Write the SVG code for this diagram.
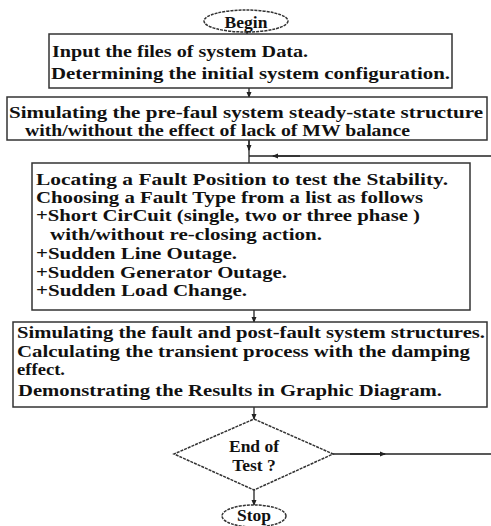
<svg xmlns="http://www.w3.org/2000/svg" width="491" height="526" viewBox="0 0 491 526">
<defs>
<marker id="ah" markerWidth="6" markerHeight="6" refX="5" refY="3" orient="auto" markerUnits="userSpaceOnUse">
<path d="M0,0.5 L6,3 L0,5.5 Z" fill="#222"/>
</marker>
<style>
.box{fill:#fff;stroke:#333;stroke-width:1.5}
.term{fill:#fff;stroke:#333;stroke-width:1.5;stroke-dasharray:3 1}
.t{font-family:"Liberation Serif","Times New Roman",serif;font-weight:bold;font-size:17.5px;fill:#111}
.c{text-anchor:middle}
.ln{stroke:#222;stroke-width:1.3;fill:none}
</style>
</defs>
<rect width="491" height="526" fill="#fff"/>
<g id="connectors">
<line class="ln" x1="247" y1="32" x2="247" y2="34" marker-end="url(#ah)"/>
<line class="ln" x1="249" y1="88" x2="249" y2="97" marker-end="url(#ah)"/>
<line class="ln" x1="249" y1="140" x2="249" y2="163"/>
<line class="ln" x1="249" y1="140" x2="249" y2="150" marker-end="url(#ah)"/>
<line class="ln" x1="491" y1="156" x2="249" y2="156"/>
<line class="ln" x1="300" y1="156" x2="273" y2="156" marker-end="url(#ah)"/>
<line class="ln" x1="254" y1="310" x2="254" y2="322" marker-end="url(#ah)"/>
<line class="ln" x1="254" y1="407" x2="254" y2="419" marker-end="url(#ah)"/>
<line class="ln" x1="254" y1="490" x2="254" y2="505" marker-end="url(#ah)"/>
<line class="ln" x1="333" y1="454" x2="491" y2="454"/>
<line class="ln" x1="350" y1="454" x2="385" y2="454" marker-end="url(#ah)"/>
</g>
<g id="begin">
<ellipse class="term" cx="246" cy="21" rx="42" ry="11"/>
<text class="t c" x="246" y="28">Begin</text>
</g>
<g id="input">
<rect class="box" x="49" y="34" width="403" height="54"/>
<text class="t" x="52" y="57" textLength="256" lengthAdjust="spacingAndGlyphs">Input the files of system Data.</text>
<text class="t" x="51" y="79" textLength="399" lengthAdjust="spacingAndGlyphs">Determining the initial system configuration.</text>
</g>
<g id="prefault">
<rect class="box" x="7" y="97" width="480" height="43"/>
<text class="t" x="9" y="118" textLength="474" lengthAdjust="spacingAndGlyphs">Simulating the pre-faul system steady-state structure</text>
<text class="t" x="25" y="136" textLength="385" lengthAdjust="spacingAndGlyphs">with/without the effect  of lack of MW balance</text>
</g>
<g id="fault">
<rect class="box" x="32" y="163" width="438" height="147"/>
<text class="t" x="36" y="185" textLength="412" lengthAdjust="spacingAndGlyphs">Locating a Fault Position to test  the Stability.</text>
<text class="t" x="36" y="203" textLength="387" lengthAdjust="spacingAndGlyphs">Choosing a Fault Type from a list as follows</text>
<text class="t" x="36" y="221" textLength="384" lengthAdjust="spacingAndGlyphs">+Short CirCuit (single, two or three phase )</text>
<text class="t" x="50" y="240" textLength="272" lengthAdjust="spacingAndGlyphs">with/without re-closing action.</text>
<text class="t" x="36" y="259" textLength="201" lengthAdjust="spacingAndGlyphs">+Sudden Line Outage.</text>
<text class="t" x="36" y="278" textLength="251" lengthAdjust="spacingAndGlyphs">+Sudden Generator Outage.</text>
<text class="t" x="36" y="296" textLength="211" lengthAdjust="spacingAndGlyphs">+Sudden Load Change.</text>
</g>
<g id="simulate">
<rect class="box" x="13" y="322" width="474" height="85"/>
<text class="t" x="17" y="338" textLength="468" lengthAdjust="spacingAndGlyphs">Simulating the fault and post-fault system structures.</text>
<text class="t" x="17" y="357" textLength="453" lengthAdjust="spacingAndGlyphs">Calculating the transient process with the damping</text>
<text class="t" x="17" y="375" textLength="48" lengthAdjust="spacingAndGlyphs">effect.</text>
<text class="t" x="18" y="396" textLength="424" lengthAdjust="spacingAndGlyphs">Demonstrating the Results in Graphic Diagram.</text>
</g>
<g id="endtest">
<polygon class="term" points="254,419 333,454 254,490 174,454"/>
<text class="t c" x="254" y="452">End of</text>
<text class="t c" x="254" y="471">Test ?</text>
</g>
<g id="stop">
<ellipse class="term" cx="254" cy="516" rx="32" ry="11"/>
<text class="t c" x="254" y="521">Stop</text>
</g>
</svg>
